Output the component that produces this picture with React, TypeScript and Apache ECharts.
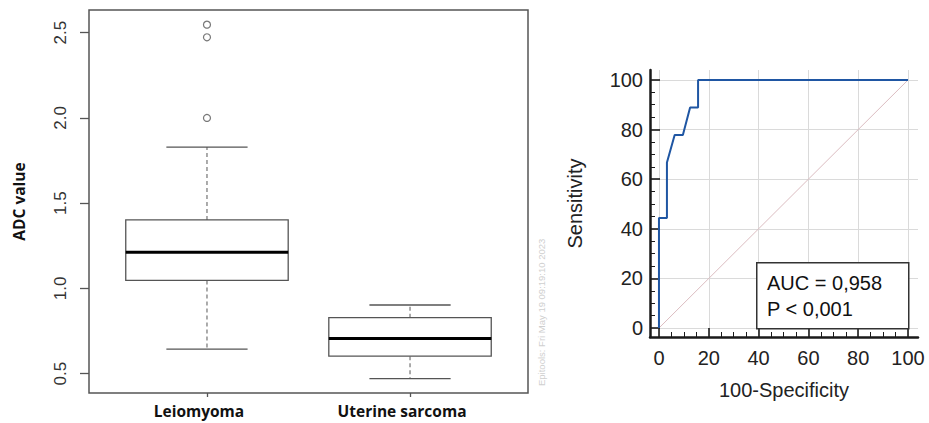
import React, { useEffect, useRef } from "react";
import * as echarts from "echarts";

// ---------- Left chart: box plot of ADC values ----------
const groups = ["Leiomyoma", "Uterine sarcoma"];
const groupPos = [1, 2];
const whiskerLow = [0.644, 0.471];
const q1 = [1.047, 0.603];
const median = [1.212, 0.706];
const q3 = [1.402, 0.829];
const whiskerHigh = [1.829, 0.903];
const outlierGroup = [1, 1, 1];
const outlierValues = [2.0, 2.473, 2.547];
const adcTicks = [0.5, 1.0, 1.5, 2.0, 2.5];

// ---------- Right chart: ROC curve ----------
const rocFpr = [0, 0, 3.2, 3.2, 6.3, 9.6, 12.5, 15.7, 15.7, 100];
const rocTpr = [0, 44.4, 44.4, 66.7, 77.8, 77.8, 88.9, 88.9, 100, 100];
const refFpr = [0, 100];
const refTpr = [0, 100];
const rocAxisMin = -3.6;
const rocAxisMax = 104;
const aucLabel = "AUC = 0,958";
const pLabel = "P < 0,001";
const watermark = "Epitools: Fri May 19 09:19:10 2023";

const BOX_W = 0.8;
const CAP_W = 0.4;
const SANS = "Liberation Sans, Arial, sans-serif";
const BOLD_SANS = "Open Sans, Noto Sans, sans-serif";
const AXIS_DARK = "#1a1a1a";

export default function App() {
  const ref = useRef<HTMLDivElement>(null);

  useEffect(() => {
    if (!ref.current) return;
    const chart = echarts.init(ref.current, null, { renderer: "svg" });

    const boxData = groupPos.map((p, i) => [
      p,
      whiskerLow[i],
      q1[i],
      median[i],
      q3[i],
      whiskerHigh[i],
    ]);

    const renderBox = (params: any, api: any) => {
      const x = api.value(0);
      const lo = api.coord([x, api.value(1)]);
      const b1 = api.coord([x, api.value(2)]);
      const md = api.coord([x, api.value(3)]);
      const b3 = api.coord([x, api.value(4)]);
      const hi = api.coord([x, api.value(5)]);
      const half = api.size([BOX_W, 0])[0] / 2;
      const capHalf = api.size([CAP_W, 0])[0] / 2;
      const cx = lo[0];
      const strokeC = "#555";
      return {
        type: "group",
        children: [
          {
            type: "line",
            shape: { x1: cx, y1: b3[1], x2: cx, y2: hi[1] },
            style: { stroke: "#888", lineWidth: 1.4, lineDash: [4, 3] },
          },
          {
            type: "line",
            shape: { x1: cx, y1: b1[1], x2: cx, y2: lo[1] },
            style: { stroke: "#888", lineWidth: 1.4, lineDash: [4, 3] },
          },
          {
            type: "line",
            shape: { x1: cx - capHalf, y1: hi[1], x2: cx + capHalf, y2: hi[1] },
            style: { stroke: strokeC, lineWidth: 1.3 },
          },
          {
            type: "line",
            shape: { x1: cx - capHalf, y1: lo[1], x2: cx + capHalf, y2: lo[1] },
            style: { stroke: strokeC, lineWidth: 1.3 },
          },
          {
            type: "rect",
            shape: { x: cx - half, y: b3[1], width: half * 2, height: b1[1] - b3[1] },
            style: { fill: "#fff", stroke: strokeC, lineWidth: 1.3 },
          },
          {
            type: "line",
            shape: { x1: cx - half, y1: md[1], x2: cx + half, y2: md[1] },
            style: { stroke: "#000", lineWidth: 3 },
          },
        ],
      };
    };

    const outerRocAxis = (isX: boolean) => ({
      type: "value",
      gridIndex: 1,
      position: isX ? "bottom" : "left",
      min: rocAxisMin,
      max: rocAxisMax,
      axisLine: {
        show: true,
        onZero: false,
        lineStyle: { color: AXIS_DARK, width: 2.5 },
      },
      axisTick: { show: false, inside: true },
      minorTick: {
        show: true,
        splitNumber: 4,
        length: 5,
        lineStyle: { color: AXIS_DARK, width: 1 },
      },
      axisLabel: {
        showMinLabel: false,
        showMaxLabel: false,
        fontFamily: SANS,
        fontSize: 20,
        color: "#222",
        margin: isX ? 11 : 7,
      },
      splitLine: {
        show: true,
        showMinLine: false,
        showMaxLine: false,
        lineStyle: { color: "#dadada", width: 1 },
      },
      name: isX ? "100-Specificity" : "Sensitivity",
      nameLocation: "middle",
      nameGap: isX ? 43 : 65,
      nameTextStyle: { fontFamily: SANS, fontSize: 20, color: "#222" },
    });

    const innerRocAxis = (isX: boolean) => ({
      type: "value",
      gridIndex: 2,
      position: isX ? "bottom" : "left",
      offset: 9,
      min: 0,
      max: 100,
      interval: 20,
      axisLine: { show: false, onZero: false },
      axisTick: {
        show: true,
        inside: true,
        length: isX ? 9 : 10,
        lineStyle: { color: AXIS_DARK, width: 1.6 },
      },
      axisLabel: { show: false },
      splitLine: { show: false },
    });

    const option: any = {
      animation: false,
      backgroundColor: "#fff",
      grid: [
        {
          left: 89,
          top: 10,
          width: 439,
          height: 383,
          show: true,
          borderColor: "#555",
          borderWidth: 1.5,
          backgroundColor: "transparent",
        },
        { left: 650, top: 70, width: 268, height: 267 },
        { left: 659, top: 80, width: 249, height: 248 },
      ],
      xAxis: [
        {
          type: "value",
          gridIndex: 0,
          min: 0.419,
          max: 2.581,
          axisLine: { show: false, onZero: false },
          splitLine: { show: false },
          axisTick: {
            show: true,
            customValues: groupPos,
            length: 4,
            lineStyle: { color: "#555", width: 1.3 },
          },
          axisLabel: {
            customValues: groupPos,
            formatter: (v: number) => groups[Math.round(v) - 1],
            fontFamily: BOLD_SANS,
            fontWeight: "bold",
            fontSize: 15.5,
            color: "#111",
            margin: 10,
            padding: [0, 16, 0, 0],
          },
        },
        outerRocAxis(true),
        innerRocAxis(true),
      ],
      yAxis: [
        {
          type: "value",
          gridIndex: 0,
          min: 0.387,
          max: 2.633,
          axisLine: { show: false, onZero: false },
          splitLine: { show: false },
          axisTick: {
            show: true,
            customValues: adcTicks,
            length: 9,
            lineStyle: { color: "#555", width: 1.3 },
          },
          axisLabel: {
            customValues: adcTicks,
            formatter: (v: number) => v.toFixed(1),
            rotate: 90,
            fontFamily: SANS,
            fontSize: 17,
            color: "#333",
            margin: 20,
          },
          name: "ADC value",
          nameLocation: "middle",
          nameGap: 62,
          nameTextStyle: {
            fontFamily: BOLD_SANS,
            fontWeight: "bold",
            fontSize: 15.5,
            color: "#111",
          },
        },
        outerRocAxis(false),
        innerRocAxis(false),
      ],
      series: [
        {
          type: "custom",
          xAxisIndex: 0,
          yAxisIndex: 0,
          renderItem: renderBox,
          encode: { x: 0, y: [1, 2, 3, 4, 5] },
          data: boxData,
          z: 3,
        },
        {
          type: "scatter",
          xAxisIndex: 0,
          yAxisIndex: 0,
          symbol: "circle",
          symbolSize: 7,
          itemStyle: { color: "#fff", borderColor: "#555", borderWidth: 1.2 },
          data: outlierGroup.map((g, i) => [g, outlierValues[i]]),
          z: 4,
        },
        {
          type: "line",
          xAxisIndex: 1,
          yAxisIndex: 1,
          showSymbol: false,
          lineStyle: { color: "#dbbcc0", width: 1 },
          data: refFpr.map((x, i) => [x, refTpr[i]]),
          z: 2,
        },
        {
          type: "line",
          xAxisIndex: 1,
          yAxisIndex: 1,
          showSymbol: false,
          lineStyle: { color: "#1f56a3", width: 2 },
          data: rocFpr.map((x, i) => [x, rocTpr[i]]),
          z: 3,
        },
      ],
      graphic: [
        {
          type: "rect",
          left: 756,
          top: 262,
          shape: { width: 152, height: 66 },
          style: { fill: "#fff", stroke: "#333", lineWidth: 1.5 },
          z: 10,
        },
        {
          type: "text",
          x: 767,
          y: 283,
          style: {
            text: aucLabel,
            fontFamily: SANS,
            fontSize: 20,
            fill: "#111",
            verticalAlign: "middle",
          },
          z: 11,
        },
        {
          type: "text",
          x: 767,
          y: 309,
          style: {
            text: pLabel,
            fontFamily: SANS,
            fontSize: 20,
            fill: "#111",
            verticalAlign: "middle",
          },
          z: 11,
        },
        {
          type: "text",
          x: 541,
          y: 386,
          rotation: Math.PI / 2,
          style: {
            text: watermark,
            fontFamily: SANS,
            fontSize: 9.5,
            fill: "#cfcfcf",
            align: "left",
            verticalAlign: "middle",
          },
          z: 11,
        },
      ],
    };

    chart.setOption(option);
    return () => chart.dispose();
  }, []);

  return (
    <div
      ref={ref}
      style={{ position: "fixed", left: 0, top: 0, width: 929, height: 423 }}
    />
  );
}
